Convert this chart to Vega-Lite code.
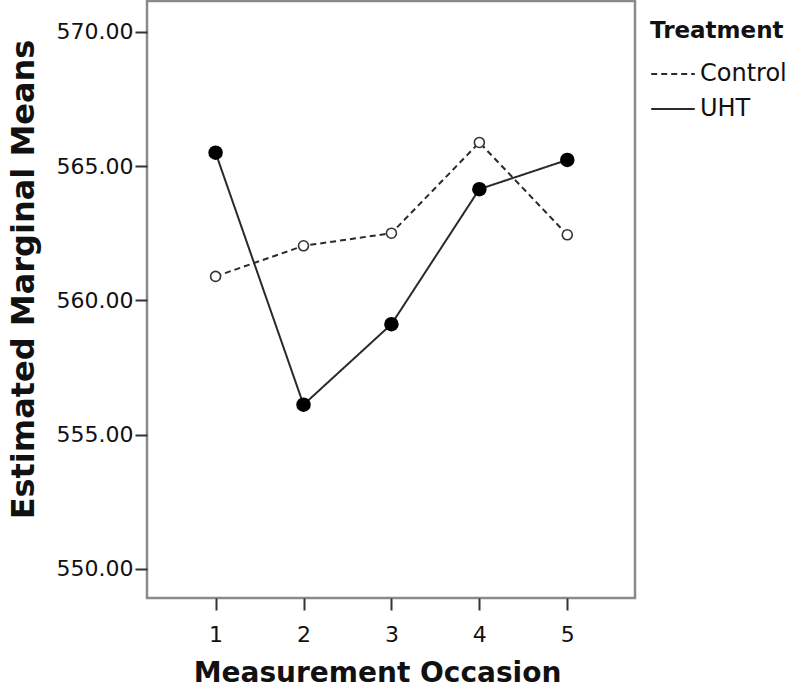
{
  "$schema": "https://vega.github.io/schema/vega-lite/v6.json",
  "autosize": {"type": "none"},
  "width": 488,
  "height": 597,
  "padding": {"left": 147, "top": 1, "right": 154, "bottom": 90},
  "background": "white",
  "config": {
    "font": "DejaVu Sans",
    "view": {"stroke": "#8a8a8a", "strokeWidth": 2.5},
    "axis": {
      "grid": false,
      "domain": false,
      "tickColor": "#333333",
      "tickWidth": 2,
      "tickSize": 12,
      "labelFont": "DejaVu Sans",
      "labelFontSize": 22,
      "labelColor": "#111111",
      "titleFont": "DejaVu Sans",
      "titleFontWeight": "bold",
      "titleFontSize": 32,
      "titleColor": "#111111"
    }
  },
  "data": {
    "values": [
      {"Occasion": 1, "Treatment": "Control", "Mean": 560.89},
      {"Occasion": 2, "Treatment": "Control", "Mean": 562.03},
      {"Occasion": 3, "Treatment": "Control", "Mean": 562.50},
      {"Occasion": 4, "Treatment": "Control", "Mean": 565.88},
      {"Occasion": 5, "Treatment": "Control", "Mean": 562.44},
      {"Occasion": 1, "Treatment": "UHT", "Mean": 565.50},
      {"Occasion": 2, "Treatment": "UHT", "Mean": 556.11},
      {"Occasion": 3, "Treatment": "UHT", "Mean": 559.11},
      {"Occasion": 4, "Treatment": "UHT", "Mean": 564.14},
      {"Occasion": 5, "Treatment": "UHT", "Mean": 565.23}
    ]
  },
  "encoding": {
    "x": {
      "field": "Occasion",
      "type": "quantitative",
      "scale": {"domain": [0.22, 5.77], "nice": false, "zero": false},
      "axis": {"values": [1, 2, 3, 4, 5], "format": "d", "title": "Measurement Occasion", "titleFontSize": 28, "labelPadding": 14, "titlePadding": 14, "titleX": 230}
    },
    "y": {
      "field": "Mean",
      "type": "quantitative",
      "scale": {"domain": [548.91, 571.15], "nice": false, "zero": false},
      "axis": {"values": [550, 555, 560, 565, 570], "format": ".2f", "title": "Estimated Marginal Means", "labelPadding": 2, "titlePadding": 16, "titleY": 278}
    }
  },
  "layer": [
    {
      "mark": {"type": "line", "color": "#2a2a2a", "strokeWidth": 2},
      "encoding": {
        "strokeDash": {
          "field": "Treatment",
          "type": "nominal",
          "scale": {"domain": ["Control", "UHT"], "range": [[6, 4], [1, 0]]},
          "legend": {
            "title": "Treatment",
            "orient": "none",
            "legendX": 503,
            "legendY": 19,
            "titleFont": "DejaVu Sans",
            "titleFontSize": 23,
            "titleFontWeight": "bold",
            "titleColor": "#111111",
            "titlePadding": 8,
            "labelFont": "DejaVu Sans",
            "labelFontSize": 24,
            "labelColor": "#111111",
            "symbolType": "stroke",
            "symbolSize": 1900,
            "symbolStrokeWidth": 2,
            "symbolStrokeColor": "#2a2a2a",
            "rowPadding": -18,
            "labelOffset": 4
          }
        }
      }
    },
    {
      "transform": [{"filter": "datum.Treatment === 'Control'"}],
      "mark": {"type": "point", "shape": "circle", "filled": false, "fill": "white", "stroke": "#333333", "strokeWidth": 1.6, "size": 100, "opacity": 1}
    },
    {
      "transform": [{"filter": "datum.Treatment === 'UHT'"}],
      "mark": {"type": "point", "shape": "circle", "filled": true, "color": "black", "size": 210, "opacity": 1}
    }
  ]
}
